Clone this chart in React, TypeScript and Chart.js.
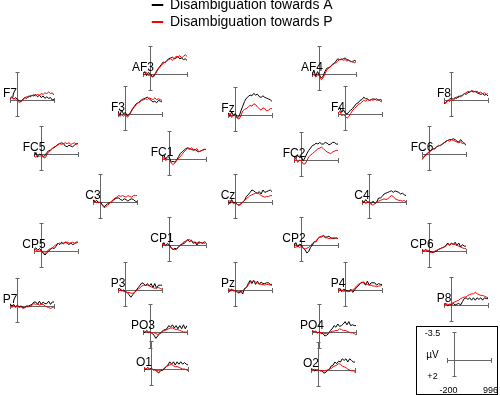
import React, { useEffect, useRef } from "react";
import { Chart, registerables } from "chart.js";

Chart.register(...registerables);

// ---------- data ----------
const TIMES = [-200, -150, -100, -50, 0, 50, 100, 150, 200, 250, 300, 350, 400, 450, 500, 550, 600, 650, 700, 750, 800, 850, 900, 950, 996];
const X_MIN = -200;
const X_MAX = 996;
const Y_TOP = -3.5;
const Y_BOTTOM = 2;
const SERIES_LABELS = ["Disambiguation towards A", "Disambiguation towards P"];
const SCALE_LABELS = { yTop: "-3.5", yBottom: "+2", unit: "µV", xLeft: "-200", xRight: "996" };

const F7_A = [-0.2,-0.4,-0.1,-0.3,-0.1,0.1,0.2,-0.1,-0.3,-0.2,-0.5,-0.4,-0.6,-0.5,-0.7,-0.4,-0.6,-0.3,-0.5,-0.2,-0.4,-0.2,-0.3,0.0,-0.1];
const F7_P = [-0.1,-0.3,-0.2,-0.1,0.1,0.3,0.2,0.0,-0.3,-0.4,-0.3,-0.6,-0.5,-0.7,-0.5,-0.7,-0.6,-0.8,-0.7,-0.9,-0.8,-1.0,-0.8,-0.9,-0.6];
const AF3_A = [0.1,-0.3,0.2,-0.2,0.0,0.3,0.2,-0.2,-0.6,-0.9,-1.2,-1.5,-1.4,-1.7,-1.9,-2.0,-2.1,-1.9,-2.0,-2.2,-1.9,-2.0,-1.8,-1.9,-1.7];
const AF3_P = [-0.1,0.1,-0.2,0.2,0.1,0.4,0.3,-0.1,-0.5,-0.8,-1.1,-1.3,-1.5,-1.6,-1.8,-1.9,-1.7,-2.0,-2.2,-2.1,-2.3,-2.0,-2.2,-2.4,-2.2];
const F3_A = [-0.4,0.2,-0.5,0.0,-0.2,0.2,0.1,-0.3,-0.7,-1.0,-1.3,-1.4,-1.6,-1.8,-1.9,-2.0,-2.1,-1.9,-1.7,-1.5,-1.6,-1.4,-1.7,-1.6,-1.5];
const F3_P = [-0.2,0.3,0.1,0.3,0.0,0.4,0.2,-0.2,-0.6,-0.9,-1.2,-1.4,-1.5,-1.7,-1.8,-1.9,-1.8,-2.0,-1.9,-1.8,-2.0,-1.8,-1.9,-1.8,-1.7];
const FZ_A = [-0.3,0.2,-0.4,0.1,-0.2,0.3,0.2,-0.5,-1.1,-1.7,-2.1,-2.3,-2.5,-2.4,-2.7,-2.5,-2.6,-2.3,-2.2,-2.4,-2.2,-2.1,-2.0,-1.9,-1.7];
const FZ_P = [0.1,-0.2,0.3,-0.1,0.2,0.4,0.5,0.1,-0.5,-0.7,-0.8,-1.0,-1.2,-1.1,-1.4,-1.3,-1.0,-0.8,-0.6,-0.9,-0.8,-0.5,-0.6,-0.8,-0.8];
const AF4_A = [0.2,-0.5,0.3,-0.3,0.1,0.5,0.3,-0.3,-0.7,-0.8,-0.9,-1.2,-1.3,-1.6,-1.9,-1.8,-1.8,-1.9,-2.0,-1.8,-1.7,-1.6,-1.5,-1.7,-1.6];
const AF4_P = [0.3,0.0,0.4,0.1,0.2,0.7,0.5,0.0,-0.5,-0.7,-0.9,-1.1,-1.3,-1.4,-1.6,-1.8,-1.9,-1.7,-1.8,-1.6,-1.8,-1.5,-1.6,-1.4,-1.5];
const F4_A = [-0.5,-0.8,-0.2,-0.5,-0.1,0.0,-0.3,-0.5,-0.7,-1.0,-1.3,-1.4,-1.7,-1.8,-2.1,-1.9,-1.9,-1.7,-1.8,-1.9,-1.8,-1.9,-1.7,-1.8,-1.7];
const F4_P = [0.0,-0.4,0.2,0.1,0.3,0.5,0.3,-0.1,-0.5,-0.7,-0.9,-1.2,-1.3,-1.5,-1.7,-1.6,-1.8,-1.7,-1.8,-1.7,-1.9,-1.7,-1.8,-1.6,-1.5];
const F8_A = [0.5,0.3,0.1,-0.1,-0.2,-0.1,-0.3,-0.2,-0.5,-0.4,-0.6,-0.8,-0.7,-0.9,-1.0,-1.1,-1.0,-1.1,-0.9,-0.8,-0.7,-0.8,-0.6,-0.7,-0.5];
const F8_P = [0.3,0.4,0.0,0.2,-0.1,0.1,-0.2,-0.4,-0.3,-0.6,-0.5,-0.8,-0.9,-1.1,-1.0,-1.2,-1.1,-1.0,-1.1,-0.9,-1.0,-0.8,-0.9,-0.7,-0.8];
const FC5_A = [0.3,-0.2,0.4,0.0,0.1,0.3,0.2,-0.2,-0.4,-0.5,-0.7,-0.8,-1.0,-1.2,-1.3,-1.4,-1.3,-1.0,-0.9,-1.1,-1.0,-0.9,-1.1,-1.3,-1.3];
const FC5_P = [0.2,0.4,0.1,0.3,0.2,0.4,0.5,0.1,-0.3,-0.4,-0.7,-0.9,-1.0,-1.1,-1.3,-1.2,-1.3,-1.4,-1.3,-1.4,-1.2,-1.3,-1.4,-1.2,-1.3];
const FC1_A = [-0.2,-0.5,0.0,-0.3,-0.2,0.4,0.3,0.4,0.1,-0.3,-0.7,-0.9,-1.1,-1.3,-1.4,-1.3,-1.2,-1.1,-1.2,-1.0,-0.9,-1.0,-1.1,-1.2,-1.2];
const FC1_P = [0.1,-0.2,0.2,0.0,0.1,0.5,0.7,0.5,0.2,-0.1,-0.3,-0.6,-0.9,-1.1,-1.3,-1.2,-1.4,-1.2,-1.1,-1.3,-0.9,-1.0,-1.1,-1.2,-1.2];
const FC2_A = [-0.4,-0.2,-0.6,-0.3,-0.4,0.1,-0.3,-0.8,-1.2,-1.5,-1.8,-1.9,-2.1,-2.0,-2.2,-2.0,-2.0,-2.2,-2.1,-1.9,-2.0,-2.2,-2.2,-2.0,-2.0];
const FC2_P = [0.2,-0.3,0.3,0.0,0.1,0.5,0.5,0.1,-0.4,-0.6,-0.8,-1.0,-1.2,-1.4,-1.5,-1.6,-1.4,-1.2,-1.0,-0.9,-0.8,-1.0,-1.1,-1.2,-1.2];
const FC6_A = [0.7,0.4,0.1,-0.1,-0.3,-0.5,-0.6,-0.7,-0.9,-1.0,-1.1,-1.2,-1.4,-1.6,-1.7,-1.8,-1.8,-1.9,-1.8,-1.6,-1.5,-1.8,-1.5,-1.3,-1.1];
const FC6_P = [0.6,0.3,0.2,0.0,-0.3,-0.4,-0.7,-0.6,-0.9,-1.1,-1.0,-1.3,-1.4,-1.5,-1.7,-1.6,-1.8,-1.7,-1.6,-1.5,-1.4,-1.5,-1.3,-1.4,-1.1];
const C3_A = [-0.3,0.0,-0.2,0.1,0.0,0.3,0.6,0.4,0.2,0.1,0.0,-0.2,-0.4,-0.5,-0.5,-0.3,-0.2,-0.4,-0.3,-0.1,-0.3,-0.4,-0.3,-0.1,0.0];
const C3_P = [0.0,-0.2,0.1,0.0,0.1,0.4,0.7,0.6,0.4,0.2,-0.1,-0.3,-0.5,-0.6,-0.8,-0.7,-0.8,-0.7,-0.6,-0.8,-0.7,-0.6,-0.8,-0.8,-0.8];
const CZ_A = [-0.1,0.2,-0.3,0.1,0.0,0.3,0.4,0.2,0.0,-0.2,-0.7,-0.9,-1.2,-1.5,-1.4,-1.2,-1.1,-1.3,-1.0,-1.5,-1.2,-1.3,-1.4,-1.5,-1.3];
const CZ_P = [0.1,-0.2,0.0,0.2,0.1,0.3,0.4,0.3,0.0,-0.2,-0.4,-0.6,-0.8,-0.9,-1.0,-1.1,-1.1,-1.0,-0.8,-0.7,-0.6,-0.7,-0.7,-0.8,-0.8];
const C4_A = [-0.2,0.1,-0.3,0.0,0.0,0.2,-0.1,0.2,0.0,-0.5,-0.5,-0.7,-1.0,-1.1,-1.2,-1.3,-1.4,-1.2,-1.4,-1.3,-1.2,-1.0,-1.1,-0.9,-0.8];
const C4_P = [0.1,-0.1,0.2,0.0,0.1,0.3,0.4,0.2,0.0,-0.1,-0.2,-0.3,-0.4,-0.3,-0.4,-0.6,-0.8,-0.7,-0.4,-0.3,-0.2,-0.2,-0.1,-0.2,0.0];
const CP5_A = [-0.2,-0.4,-0.1,-0.3,-0.1,0.3,0.5,0.2,0.0,-0.2,-0.4,-0.3,-0.6,-1.0,-0.8,-1.1,-0.9,-1.1,-1.0,-0.8,-1.0,-0.8,-0.9,-1.1,-1.1];
const CP5_P = [0.0,-0.2,0.1,-0.1,0.0,0.2,0.3,0.1,-0.2,-0.3,-0.4,-0.6,-0.8,-0.9,-1.0,-0.9,-1.0,-1.1,-1.1,-1.0,-1.0,-1.1,-1.0,-1.0,-1.1];
const CP1_A = [0.2,-0.3,0.1,-0.2,0.0,0.3,0.6,0.4,0.5,0.2,0.0,-0.1,-0.2,-0.4,-0.7,-0.4,-0.6,-0.2,-0.4,0.0,-0.4,-0.3,-0.2,-0.4,-0.3];
const CP1_P = [0.0,-0.1,0.1,0.0,0.1,0.4,0.5,0.6,0.5,0.3,0.0,-0.2,-0.4,-0.5,-0.6,-0.7,-0.5,-0.4,-0.2,-0.3,-0.2,-0.3,-0.3,-0.2,-0.3];
const CP2_A = [0.1,-0.3,0.2,-0.1,0.0,0.4,0.6,1.0,0.8,0.3,0.0,-0.4,-0.4,-0.8,-1.0,-1.0,-1.2,-1.0,-1.0,-1.1,-0.9,-0.8,-0.8,-0.9,-0.8];
const CP2_P = [0.2,0.3,0.1,0.3,0.2,0.4,0.5,0.4,0.3,0.1,-0.2,-0.4,-0.5,-0.8,-1.0,-1.1,-1.1,-0.9,-0.9,-0.8,-0.8,-0.9,-0.9,-0.8,-0.8];
const CP6_A = [-0.1,0.0,-0.2,0.0,0.0,0.1,0.2,0.1,0.0,-0.2,-0.3,-0.4,-0.5,-0.7,-1.0,-0.7,-1.0,-0.8,-1.1,-0.7,-1.0,-0.5,-0.8,-0.6,-0.6];
const CP6_P = [0.0,-0.1,0.0,-0.1,0.1,0.2,0.2,0.0,-0.1,-0.2,-0.3,-0.4,-0.5,-0.6,-0.8,-0.8,-0.9,-0.9,-0.8,-0.7,-0.6,-0.5,-0.4,-0.3,-0.3];
const P7_A = [-0.3,0.0,-0.2,0.1,-0.1,0.1,0.0,0.2,0.2,0.0,0.0,-0.1,-0.2,-0.5,-0.5,-0.2,-0.6,-0.2,-0.5,-0.3,-0.3,-0.6,-0.2,-0.5,-0.5];
const P7_P = [-0.1,0.2,-0.1,0.2,0.0,0.2,0.1,0.3,0.2,0.1,0.1,0.0,-0.1,-0.3,-0.2,-0.3,-0.1,-0.2,-0.2,0.0,0.1,0.2,0.3,0.2,0.1];
const P3_A = [0.0,-0.2,0.1,0.0,0.2,0.3,0.6,0.9,0.6,0.3,0.0,-0.3,-0.6,-0.9,-0.8,-0.5,-0.8,-0.5,-0.8,-0.3,-0.8,-0.2,-0.6,-0.6,-0.6];
const P3_P = [0.0,0.1,0.0,0.2,0.2,0.3,0.3,0.4,0.4,0.3,0.1,-0.1,-0.3,-0.5,-0.6,-0.6,-0.6,-0.5,-0.4,-0.3,-0.2,-0.3,-0.3,-0.2,-0.1];
const PZ_A = [0.0,0.2,-0.1,0.1,0.1,0.2,0.4,0.1,0.5,-0.2,-0.3,-0.8,-1.2,-0.8,-1.2,-0.7,-1.1,-0.7,-1.0,-0.8,-0.8,-0.9,-0.9,-0.7,-0.7];
const PZ_P = [0.1,-0.1,0.1,0.0,0.1,0.3,0.2,0.3,0.1,-0.1,-0.3,-0.6,-1.0,-1.1,-1.1,-1.0,-0.9,-0.8,-0.7,-0.7,-0.6,-0.7,-0.7,-0.6,-0.6];
const P4_A = [0.1,-0.2,0.2,-0.1,0.0,0.1,0.2,-0.1,0.3,0.0,-0.3,-0.5,-0.8,-1.0,-0.9,-0.6,-1.1,-0.6,-0.9,-0.9,-0.9,-0.6,-0.8,-0.7,-0.7];
const P4_P = [0.0,0.1,0.0,0.2,0.1,0.2,0.2,0.1,0.0,-0.2,-0.5,-0.7,-0.8,-0.9,-1.0,-0.8,-0.7,-0.6,-0.6,-0.5,-0.5,-0.4,-0.5,-0.5,-0.6];
const P8_A = [0.0,-0.2,0.1,-0.1,0.0,-0.2,0.0,-0.1,-0.2,0.0,-0.4,-0.8,-0.9,-0.7,-0.9,-0.6,-0.9,-0.6,-0.9,-0.7,-0.9,-0.6,-0.9,-0.8,-0.8];
const P8_P = [0.0,-0.1,-0.1,0.0,-0.2,-0.3,-0.4,-0.5,-0.6,-0.8,-0.9,-1.0,-1.0,-1.2,-1.3,-1.4,-1.4,-1.6,-1.4,-1.3,-1.2,-1.2,-1.1,-1.0,-0.9];
const PO3_A = [-0.1,0.1,-0.2,0.0,0.0,0.2,0.4,0.8,0.5,0.2,0.0,-0.2,-0.3,-0.4,-0.8,-0.6,-0.9,-0.5,-0.8,-0.4,-0.8,-0.4,-0.9,-0.4,-0.8];
const PO3_P = [0.0,-0.1,0.0,0.1,0.0,0.1,0.1,0.2,0.3,0.2,0.1,-0.1,-0.2,-0.3,-0.4,-0.5,-0.5,-0.4,-0.3,-0.3,-0.2,-0.1,0.0,0.0,0.0];
const PO4_A = [-0.2,0.0,-0.1,0.1,0.0,0.2,0.2,0.5,0.4,0.2,-0.2,-0.4,-0.8,-0.6,-1.0,-0.7,-0.8,-1.0,-1.3,-0.9,-1.3,-0.8,-0.9,-0.8,-0.8];
const PO4_P = [-0.2,-0.1,0.0,0.1,0.0,0.1,0.1,0.2,0.2,0.1,0.0,-0.1,-0.1,-0.2,-0.2,-0.4,-0.3,-0.2,-0.2,-0.1,0.0,0.1,0.1,0.2,0.4];
const O1_A = [-0.1,0.1,-0.2,0.0,-0.1,0.1,0.1,0.3,0.5,0.2,0.2,0.0,-0.3,-0.5,-0.9,-0.6,-0.9,-0.5,-0.9,-0.6,-0.9,-0.6,-0.8,-0.6,-0.5];
const O1_P = [0.0,-0.1,0.1,0.0,0.0,0.1,0.1,0.2,0.2,0.1,0.1,-0.1,-0.3,-0.4,-0.5,-0.6,-0.4,-0.3,-0.3,-0.2,-0.1,0.0,0.0,0.1,0.2];
const O2_A = [0.0,-0.1,0.1,0.0,0.0,0.1,0.1,0.4,0.3,0.0,-0.1,-0.5,-0.6,-1.0,-0.8,-1.1,-1.0,-1.4,-1.2,-1.4,-1.0,-1.4,-1.2,-1.0,-1.0];
const O2_P = [0.0,0.1,-0.1,0.0,0.0,0.1,0.1,0.1,0.1,0.0,-0.1,-0.2,-0.4,-0.5,-0.6,-0.8,-0.7,-0.5,-0.4,-0.3,-0.1,0.0,0.1,0.1,0.3];

// ---------- layout (page pixel position of each electrode's origin: 0 ms, 0 µV) ----------
const ELECTRODES: { name: string; a: number[]; p: number[]; ox: number; oy: number }[] = [
  { name: "F7", a: F7_A, p: F7_P, ox: 17.5, oy: 99.5 },
  { name: "AF3", a: AF3_A, p: AF3_P, ox: 150.7, oy: 74 },
  { name: "AF4", a: AF4_A, p: AF4_P, ox: 319.3, oy: 74 },
  { name: "F8", a: F8_A, p: F8_P, ox: 451.7, oy: 99.5 },
  { name: "F3", a: F3_A, p: F3_P, ox: 125, oy: 114 },
  { name: "Fz", a: FZ_A, p: FZ_P, ox: 235.5, oy: 114.5 },
  { name: "F4", a: F4_A, p: F4_P, ox: 345.7, oy: 114 },
  { name: "FC5", a: FC5_A, p: FC5_P, ox: 41.7, oy: 154 },
  { name: "FC1", a: FC1_A, p: FC1_P, ox: 169, oy: 159 },
  { name: "FC2", a: FC2_A, p: FC2_P, ox: 301, oy: 159.5 },
  { name: "FC6", a: FC6_A, p: FC6_P, ox: 429, oy: 154 },
  { name: "C3", a: C3_A, p: C3_P, ox: 100.7, oy: 201.7 },
  { name: "Cz", a: CZ_A, p: CZ_P, ox: 235.5, oy: 201.7 },
  { name: "C4", a: C4_A, p: C4_P, ox: 369.3, oy: 201.7 },
  { name: "CP5", a: CP5_A, p: CP5_P, ox: 41.7, oy: 251.3 },
  { name: "CP1", a: CP1_A, p: CP1_P, ox: 169, oy: 244.7 },
  { name: "CP2", a: CP2_A, p: CP2_P, ox: 301, oy: 244.7 },
  { name: "CP6", a: CP6_A, p: CP6_P, ox: 429, oy: 251.3 },
  { name: "P7", a: P7_A, p: P7_P, ox: 17.7, oy: 305.7 },
  { name: "P3", a: P3_A, p: P3_P, ox: 125, oy: 290 },
  { name: "Pz", a: PZ_A, p: PZ_P, ox: 235.5, oy: 290 },
  { name: "P4", a: P4_A, p: P4_P, ox: 345.7, oy: 290 },
  { name: "P8", a: P8_A, p: P8_P, ox: 451.7, oy: 304.7 },
  { name: "PO3", a: PO3_A, p: PO3_P, ox: 150.7, oy: 331.7 },
  { name: "PO4", a: PO4_A, p: PO4_P, ox: 319.3, oy: 331.7 },
  { name: "O1", a: O1_A, p: O1_P, ox: 151.7, oy: 369 },
  { name: "O2", a: O2_A, p: O2_P, ox: 318.3, oy: 369.5 },
];

// ---------- styles ----------
const FONT = "'Liberation Sans', Arial, Helvetica, sans-serif";
const COLOR_A = "#000000";
const COLOR_P = "#ff0000";
const AXIS_COLOR = "#666666";
const PLOT_W = 44;
const PLOT_H = 44;
const PAD = 16;
const ORIGIN_DX = (PLOT_W * (0 - X_MIN)) / (X_MAX - X_MIN);
const ORIGIN_DY = (PLOT_H * (0 - Y_TOP)) / (Y_BOTTOM - Y_TOP);

const erpAxesPlugin = {
  id: "erpAxes",
  beforeDatasetsDraw(chart: any, _args: any, opts: any) {
    const { ctx } = chart;
    const xs = chart.scales.x;
    const ys = chart.scales.y;
    const x0 = Math.round(xs.getPixelForValue(0)) + 0.5;
    const y0 = Math.round(ys.getPixelForValue(0)) + 0.5;
    const xl = Math.round(xs.getPixelForValue(X_MIN)) + 0.5;
    const xr = Math.round(xs.getPixelForValue(X_MAX)) + 0.5;
    const yt = Math.round(ys.getPixelForValue(Y_TOP)) + 0.5;
    const yb = Math.round(ys.getPixelForValue(Y_BOTTOM)) + 0.5;
    ctx.save();
    if (opts.box) {
      ctx.strokeStyle = "#000";
      ctx.lineWidth = 1;
      ctx.strokeRect(0.5, 0.5, chart.width - 1, chart.height - 1);
    }
    ctx.strokeStyle = AXIS_COLOR;
    ctx.lineWidth = 1;
    ctx.beginPath();
    ctx.moveTo(xl, y0);
    ctx.lineTo(xr, y0);
    ctx.moveTo(xl, y0 - 2.5);
    ctx.lineTo(xl, y0 + 2.5);
    ctx.moveTo(xr, y0 - 2.5);
    ctx.lineTo(xr, y0 + 2.5);
    ctx.moveTo(x0, yt);
    ctx.lineTo(x0, yb);
    ctx.moveTo(x0 - 2, yt);
    ctx.lineTo(x0 + 2, yt);
    ctx.moveTo(x0 - 2, yb);
    ctx.lineTo(x0 + 2, yb);
    ctx.stroke();
    ctx.fillStyle = "#000";
    if (opts.label) {
      ctx.font = `12px ${FONT}`;
      ctx.textAlign = "center";
      ctx.textBaseline = "alphabetic";
      ctx.fillText(opts.label, xs.getPixelForValue(X_MIN), ys.getPixelForValue(0) - 2.7);
    }
    if (opts.scaleText) {
      const t = opts.scaleText;
      ctx.font = `9px ${FONT}`;
      ctx.textAlign = "center";
      ctx.textBaseline = "middle";
      const lx = x0 - 22;
      ctx.fillText(t.yTop, lx, yt + 1.5);
      ctx.fillText(t.yBottom, lx, yb + 0.5);
      ctx.font = `10px ${FONT}`;
      ctx.fillText(t.unit, lx, ys.getPixelForValue(-0.65));
      ctx.font = `9px ${FONT}`;
      ctx.fillText(t.xLeft, xl + 1, yb + 14.5);
      ctx.fillText(t.xRight, xr - 1, yb + 14.5);
    }
    ctx.restore();
  },
};

function makeScales() {
  return {
    x: { type: "linear" as const, min: X_MIN, max: X_MAX, display: false },
    y: { type: "linear" as const, min: Y_TOP, max: Y_BOTTOM, reverse: true, display: false },
  };
}

function toPoints(values: number[]) {
  return values.map((v, i) => ({ x: TIMES[i], y: v }));
}

function ErpPlot({ name, a, p, ox, oy }: { name: string; a: number[]; p: number[]; ox: number; oy: number }) {
  const ref = useRef<HTMLCanvasElement>(null);
  const W = PLOT_W + 2 * PAD;
  const H = PLOT_H + 2 * PAD;
  const left = Math.round(ox - ORIGIN_DX - PAD);
  const top = Math.round(oy - ORIGIN_DY - PAD);
  useEffect(() => {
    const chart = new Chart(ref.current as HTMLCanvasElement, {
      type: "line",
      data: {
        datasets: [
          { label: SERIES_LABELS[0], data: toPoints(a), borderColor: COLOR_A, backgroundColor: COLOR_A, borderWidth: 1, pointRadius: 0, tension: 0, order: 1 },
          { label: SERIES_LABELS[1], data: toPoints(p), borderColor: COLOR_P, backgroundColor: COLOR_P, borderWidth: 1, pointRadius: 0, tension: 0, order: 0 },
        ],
      },
      options: {
        responsive: false,
        animation: false,
        events: [],
        layout: { padding: PAD },
        scales: makeScales(),
        plugins: {
          legend: { display: false },
          tooltip: { enabled: false },
          erpAxes: { label: name },
        } as any,
      },
      plugins: [erpAxesPlugin],
    });
    return () => chart.destroy();
  }, [name, a, p]);
  return <canvas ref={ref} width={W} height={H} style={{ position: "absolute", left, top, width: W, height: H }} />;
}

function ScaleBox() {
  const ref = useRef<HTMLCanvasElement>(null);
  const left = 416;
  const top = 326;
  const W = 82;
  const H = 69;
  const padLeft = 454 - ORIGIN_DX - left;
  const padTop = 360 - ORIGIN_DY - top;
  useEffect(() => {
    const chart = new Chart(ref.current as HTMLCanvasElement, {
      type: "line",
      data: { datasets: [] },
      options: {
        responsive: false,
        animation: false,
        events: [],
        layout: { padding: { left: padLeft, top: padTop, right: W - padLeft - PLOT_W, bottom: H - padTop - PLOT_H } },
        scales: makeScales(),
        plugins: {
          legend: { display: false },
          tooltip: { enabled: false },
          erpAxes: { box: true, scaleText: SCALE_LABELS },
        } as any,
      },
      plugins: [erpAxesPlugin],
    });
    return () => chart.destroy();
  }, []);
  return <canvas ref={ref} width={W} height={H} style={{ position: "absolute", left, top, width: W, height: H }} />;
}

function LegendChart() {
  const ref = useRef<HTMLCanvasElement>(null);
  const left = 149;
  const top = -5;
  const W = 230;
  const H = 100;
  useEffect(() => {
    const chart = new Chart(ref.current as HTMLCanvasElement, {
      type: "line",
      data: {
        datasets: [
          { label: SERIES_LABELS[0], data: [], borderColor: COLOR_A, backgroundColor: COLOR_A, borderWidth: 1 },
          { label: SERIES_LABELS[1], data: [], borderColor: COLOR_P, backgroundColor: COLOR_P, borderWidth: 1 },
        ],
      },
      options: {
        responsive: false,
        animation: false,
        events: [],
        layout: { padding: 0 },
        scales: makeScales(),
        plugins: {
          tooltip: { enabled: false },
          legend: {
            display: true,
            position: "top",
            align: "start",
            maxHeight: 60,
            labels: {
              boxWidth: 11,
              boxHeight: 1,
              padding: 3,
              color: "#000",
              font: { size: 14, family: FONT },
            },
          },
        },
      },
    });
    return () => chart.destroy();
  }, []);
  return <canvas ref={ref} width={W} height={H} style={{ position: "absolute", left, top, width: W, height: H }} />;
}

export default function App() {
  return (
    <div style={{ position: "absolute", left: 0, top: 0, width: 500, height: 395, overflow: "hidden", background: "#fff" }}>
      <LegendChart />
      {ELECTRODES.map((e) => (
        <ErpPlot key={e.name} {...e} />
      ))}
      <ScaleBox />
    </div>
  );
}
